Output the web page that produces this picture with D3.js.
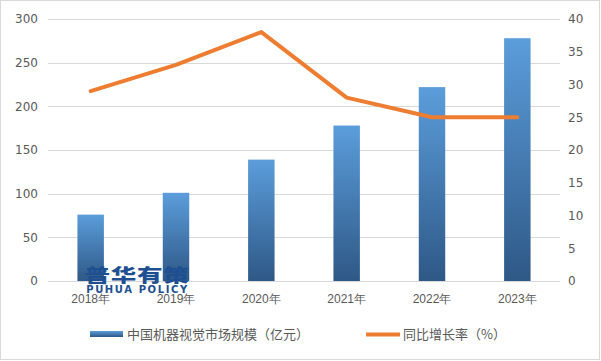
<!DOCTYPE html>
<html><head><meta charset="utf-8">
<script src="https://cdn.jsdelivr.net/npm/d3@7"></script>
<style>
html,body{margin:0;padding:0;background:#fff;}
svg{display:block;font-family:"Microsoft YaHei","Noto Sans CJK SC",sans-serif;}
</style></head>
<body><svg id="c" width="601" height="361"></svg>
<script>
const categories = ["2018年","2019年","2020年","2021年","2022年","2023年"];
const marketSize = [76, 101, 139, 178, 222, 278];
const growthRate = [29, 33, 38, 28, 25, 25];
const leftTicks = [0, 50, 100, 150, 200, 250, 300];
const rightTicks = [0, 5, 10, 15, 20, 25, 30, 35, 40];
const seriesNames = ["中国机器视觉市场规模（亿元）", "同比增长率（%）"];

const svg = d3.select("#c");
const W = 601, H = 361;
const plot = {l: 48, r: 560, t: 19, b: 281};

svg.append("rect").attr("x",0.5).attr("y",0.5).attr("width",W-2).attr("height",H-2)
  .attr("fill","#fff").attr("stroke","#d9d9d9");

const defs = svg.append("defs");
const grad = defs.append("linearGradient").attr("id","bg").attr("x1",0).attr("y1",0).attr("x2",0).attr("y2",1);
grad.append("stop").attr("offset","0%").attr("stop-color","#5b9ddb");
grad.append("stop").attr("offset","100%").attr("stop-color","#2e5886");

const x = d3.scaleBand().domain(categories).range([plot.l, plot.r]).paddingInner(0.69).paddingOuter(0.345);
const yL = d3.scaleLinear().domain([0,300]).range([plot.b, plot.t]);
const yR = d3.scaleLinear().domain([0,40]).range([plot.b, plot.t]);

// gridlines
svg.append("g").selectAll("line").data(leftTicks).join("line")
  .attr("x1",plot.l).attr("x2",plot.r)
  .attr("y1",d=>Math.round(yL(d))+0.5).attr("y2",d=>Math.round(yL(d))+0.5)
  .attr("stroke","#d9d9d9").attr("stroke-width",1);

// left axis
const axL = svg.append("g").attr("transform",`translate(${plot.l},0)`)
  .call(d3.axisLeft(yL).tickValues(leftTicks).tickSize(0).tickPadding(10));
axL.select(".domain").remove();
axL.selectAll("text").attr("fill","#595959").style("font-size","12px").style("font-family","Verdana,'DejaVu Sans',sans-serif");

// right axis
const axR = svg.append("g").attr("transform",`translate(${plot.r},0)`)
  .call(d3.axisRight(yR).tickValues(rightTicks).tickSize(0).tickPadding(8));
axR.select(".domain").remove();
axR.selectAll("text").attr("fill","#595959").style("font-size","12px").style("font-family","Verdana,'DejaVu Sans',sans-serif");

// bars
svg.append("g").selectAll("rect").data(marketSize).join("rect")
  .attr("x",(d,i)=>x(categories[i])).attr("width",x.bandwidth())
  .attr("y",d=>yL(d)).attr("height",d=>yL(0)-yL(d))
  .attr("fill","url(#bg)");

// watermark
const wm = svg.append("g").attr("fill","#1e4f90");
wm.append("text").attr("transform","translate(137,282) scale(1.42,1)").attr("text-anchor","middle")
  .style("font-size","18px").style("font-weight","900").style("letter-spacing","0.5px")
  .style("font-family","'Noto Sans CJK SC',sans-serif").text("普华有策");
wm.append("text").attr("x",137.5).attr("y",293).attr("text-anchor","middle")
  .style("font-size","10px").style("font-weight","bold").style("letter-spacing","1.6px")
  .style("font-family","Verdana,'DejaVu Sans',sans-serif").text("PUHUA POLICY");

// x axis labels
const axB = svg.append("g").attr("transform",`translate(0,${plot.b})`)
  .call(d3.axisBottom(x).tickSize(0).tickPadding(13));
axB.select(".domain").remove();
axB.selectAll("text").attr("fill","#595959").style("font-size","12px");

// line
const line = d3.line().x((d,i)=>x(categories[i])+x.bandwidth()/2).y(d=>yR(d));
svg.append("path").datum(growthRate).attr("d",line)
  .attr("fill","none").attr("stroke","#ed7d31").attr("stroke-width",4)
  .attr("stroke-linejoin","round").attr("stroke-linecap","round");

// legend
const lg = svg.append("g");
lg.append("rect").attr("x",90).attr("y",331).attr("width",33).attr("height",6).attr("fill","url(#bg)");
lg.append("text").attr("x",127).attr("y",339).attr("fill","#595959").style("font-size","13px").text(seriesNames[0]);
lg.append("line").attr("x1",366).attr("x2",400).attr("y1",334.5).attr("y2",334.5)
  .attr("stroke","#ed7d31").attr("stroke-width",4);
lg.append("text").attr("x",403).attr("y",339).attr("fill","#595959").style("font-size","13px").text(seriesNames[1]);
</script></body></html>
